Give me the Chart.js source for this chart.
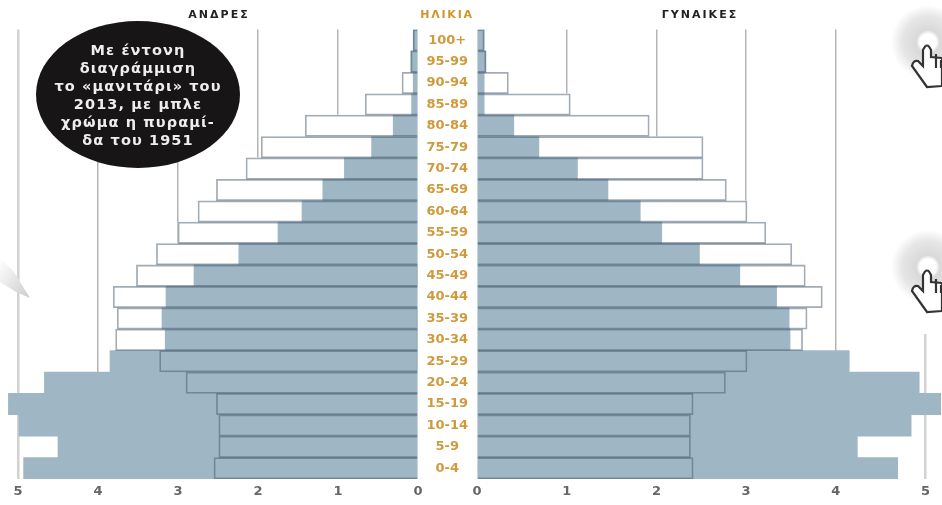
<!DOCTYPE html>
<html lang="el">
<head>
<meta charset="utf-8">
<title>Πληθυσμιακή πυραμίδα 1951 - 2013</title>
<script src="https://cdn.jsdelivr.net/npm/chart.js@4/dist/chart.umd.min.js"></script>
<style>
    html, body { margin: 0; padding: 0; background: #fff; }
    #page { position: relative; width: 942px; height: 505px; overflow: hidden; font-family: "DejaVu Sans", sans-serif; }
    #page canvas { position: absolute; top: 0; }
    #men-chart { left: 0; }
    #women-chart { left: 418px; }
    .heading { position: absolute; top: 8px; font-size: 11px; font-weight: bold; letter-spacing: 2px; color: #222; transform: translateX(-50%); white-space: nowrap; }
    #heading-age { color: #d0962e; letter-spacing: 1.8px; }
    #note { position: absolute; left: 36px; top: 21px; width: 204px; height: 147px; border-radius: 50%; background: #171515; }
    #note-text { position: absolute; left: 36px; top: 41px; width: 204px; text-align: center; color: #eeeeee; font-size: 14.5px; font-weight: bold; letter-spacing: 1.1px; line-height: 18px; white-space: nowrap; }
    #mask { position: absolute; left: 905px; top: 20px; width: 37px; height: 314px; background: #fff; }
    #art { position: absolute; left: 0; top: 0; }
</style>
</head>
<body>
<div id="page">
    <canvas id="men-chart"></canvas>
    <canvas id="women-chart"></canvas>
    <div id="mask"></div>
    <svg id="art" width="942" height="505">
        <defs>
            <radialGradient id="halo">
                <stop offset="0.22" stop-color="#fff"/>
                <stop offset="0.32" stop-color="#d9d9d9"/>
                <stop offset="0.7" stop-color="#e6e6e6"/>
                <stop offset="1" stop-color="#fff"/>
            </radialGradient>
            <linearGradient id="smear" x1="0" y1="0" x2="1" y2="1">
                <stop offset="0" stop-color="#fff"/>
                <stop offset="1" stop-color="#cccccc"/>
            </linearGradient>
            <g id="hand">
                <circle cx="928" cy="42" r="37" fill="url(#halo)"/>
                <path d="M923 66 L923 50 Q927 41 931 50 L931 57 L942 58 L942 86 L927 87 L912 66 Q913 60 918 61 Z" fill="#fff" stroke="#333" stroke-width="2.2"/>
                <path d="M936 54 L936 68 M941 60 L941 68" fill="none" stroke="#333" stroke-width="2.2"/>
            </g>
        </defs>
        <path d="M0 258 L14 272 L30 298 L16 292 L0 282 Z" fill="url(#smear)"/>
        <use href="#hand"/>
        <use href="#hand" y="225"/>
    </svg>
    <div class="heading" style="left:219px">ΑΝΔΡΕΣ</div>
    <div class="heading" id="heading-age" style="left:447px">ΗΛΙΚΙΑ</div>
    <div class="heading" style="left:700px">ΓΥΝΑΙΚΕΣ</div>
    <div id="note"></div>
    <div id="note-text">Με έντονη<br>διαγράμμιση<br>το «μανιτάρι» του<br>2013, με μπλε<br>χρώμα η πυραμί-<br>δα του 1951</div>
</div>
<script>
// Age groups, top of the pyramid first
const ageGroups = ["100+", "95-99", "90-94", "85-89", "80-84", "75-79", "70-74", "65-69", "60-64", "55-59", "50-54",
    "45-49", "40-44", "35-39", "30-34", "25-29", "20-24", "15-19", "10-14", "5-9", "0-4"];

// Values (percent of population)
const men1951 = [0.06, 0.09, 0.06, 0.08, 0.31, 0.58, 0.92, 1.19, 1.45, 1.75, 2.24,
    2.80, 3.15, 3.20, 3.16, 3.85, 4.67, 5.12, 4.99, 4.50, 4.93];
const men2013 = [0.06, 0.09, 0.20, 0.66, 1.41, 1.96, 2.15, 2.52, 2.75, 3.00, 3.27,
    3.52, 3.81, 3.76, 3.78, 3.23, 2.90, 2.52, 2.49, 2.49, 2.55];
const women1951 = [0.08, 0.10, 0.08, 0.08, 0.41, 0.69, 1.12, 1.46, 1.82, 2.06, 2.48,
    2.93, 3.34, 3.48, 3.49, 4.15, 4.93, 5.17, 4.84, 4.24, 4.69];
const women2013 = [0.08, 0.10, 0.35, 1.04, 1.92, 2.52, 2.52, 2.78, 3.01, 3.22, 3.51,
    3.66, 3.85, 3.68, 3.63, 3.01, 2.77, 2.41, 2.38, 2.38, 2.41];

const xTicks = [0, 1, 2, 3, 4, 5];

const PAGE_HEIGHT = 505;
const TOP = 29.5;
const AXIS_HEIGHT = 26;

// One half of the pyramid
function buildSide(canvasId, width, data1951, data2013, opts) {
    const canvas = document.getElementById(canvasId);
    canvas.width = width;
    canvas.height = PAGE_HEIGHT;
    canvas.style.width = width + "px";
    canvas.style.height = PAGE_HEIGHT + "px";

    return new Chart(canvas.getContext("2d"), {
        type: "bar",
        data: {
            labels: ageGroups,
            datasets: [
                // white body of the 2013 shape, behind everything
                { label: "2013", data: data2013, backgroundColor: "#ffffff", borderWidth: 0, order: 3 },
                { label: "1951", data: data1951, backgroundColor: "#9fb7c4", borderWidth: 0, order: 2 },
                // outline of the 2013 shape, stays visible over the blue
                { label: "2013 outline", data: data2013, backgroundColor: "rgba(0,0,0,0)",
                  borderColor: "rgba(70,90,110,0.5)", borderWidth: 1.1, borderSkipped: "start", order: 1 },
            ],
        },
        options: {
            indexAxis: "y",
            responsive: false,
            animation: false,
            layout: { padding: { top: TOP, right: opts.paddingRight } },
            datasets: { bar: { grouped: false, barPercentage: 1, categoryPercentage: 1 } },
            plugins: { legend: { display: false }, tooltip: { enabled: false } },
            scales: {
                x: {
                    min: 0,
                    max: opts.max,
                    reverse: opts.reverse,
                    afterBuildTicks: (axis) => { axis.ticks = xTicks.map((v) => ({ value: v })); },
                    afterFit: (axis) => { axis.height = AXIS_HEIGHT; },
                    border: { display: false },
                    grid: {
                        drawTicks: false,
                        color: (ctx) => ctx.tick.value === 0 ? "rgba(0,0,0,0)" : (ctx.tick.value === 5 ? "#d2d2d2" : "#b4b4b4"),
                        lineWidth: (ctx) => ctx.tick.value === 5 ? 2.5 : 1.5,
                    },
                    ticks: {
                        autoSkip: false,
                        maxRotation: 0,
                        padding: 5,
                        color: "#666666",
                        font: { family: "DejaVu Sans", size: 13, weight: "bold" },
                    },
                },
                y: {
                    display: opts.showAges,
                    afterFit: (axis) => { axis.width = opts.axisWidth; },
                    border: { display: false },
                    grid: { display: false, drawTicks: false },
                    ticks: {
                        autoSkip: false,
                        padding: 9,
                        crossAlign: "center",
                        color: "#cf9a3c",
                        font: { family: "DejaVu Sans", size: 13, weight: "bold" },
                    },
                },
            },
        },
    });
}

// Left side: 80px per unit, 0 sits at x=418
buildSide("men-chart", 440, men1951, men2013, { max: 418 / 80, reverse: true, paddingRight: 22, showAges: false, axisWidth: 0 });
// Right side: 89.7px per unit, 0 sits at x=477, age labels live in its y axis
buildSide("women-chart", 524, women1951, women2013, { max: 465 / 89.7, reverse: false, paddingRight: 0, showAges: true, axisWidth: 59 });
</script>
</body>
</html>
